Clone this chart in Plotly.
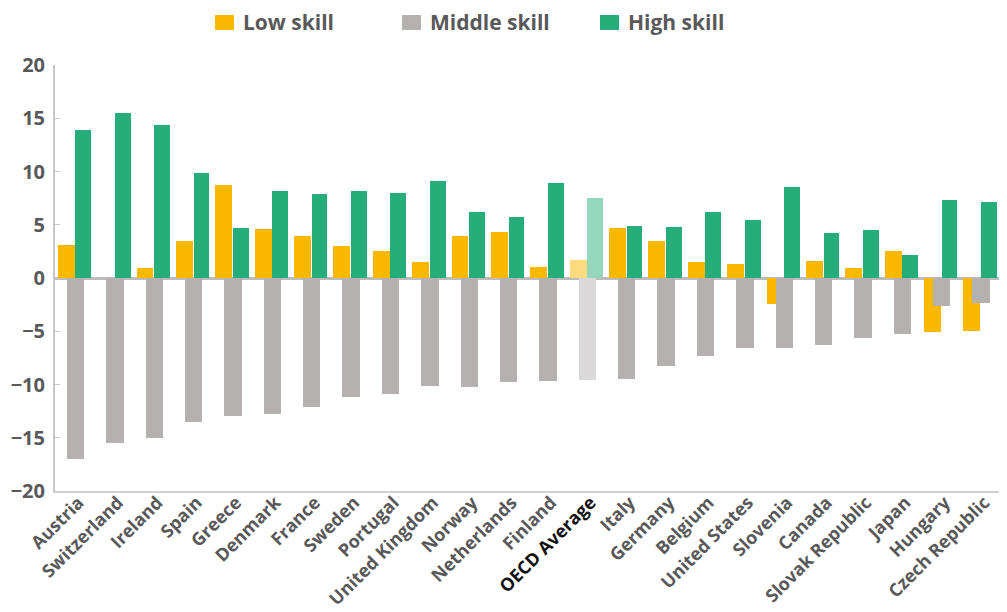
import plotly.graph_objects as go

countries = ["Austria", "Switzerland", "Ireland", "Spain", "Greece", "Denmark", "France",
             "Sweden", "Portugal", "United Kingdom", "Norway", "Netherlands", "Finland",
             "OECD Average", "Italy", "Germany", "Belgium", "United States", "Slovenia",
             "Canada", "Slovak Republic", "Japan", "Hungary", "Czech Republic"]
low_skill = [3.1, 0.0, 0.9, 3.5, 8.7, 4.6, 3.9, 3.0, 2.5, 1.5, 3.9, 4.3, 1.0,
             1.65, 4.7, 3.5, 1.5, 1.3, -2.4, 1.6, 0.9, 2.5, -5.1, -5.0]
middle_skill = [-17.0, -15.5, -15.0, -13.5, -13.0, -12.8, -12.1, -11.2, -10.9, -10.1, -10.2, -9.8, -9.7,
                -9.6, -9.5, -8.3, -7.3, -6.6, -6.6, -6.3, -5.6, -5.3, -2.6, -2.3]
high_skill = [13.9, 15.5, 14.4, 9.9, 4.7, 8.2, 7.9, 8.2, 8.0, 9.1, 6.2, 5.7, 8.9,
              7.5, 4.9, 4.8, 6.2, 5.4, 8.5, 4.2, 4.5, 2.2, 7.3, 7.1]
y_ticks = [-20, -15, -10, -5, 0, 5, 10, 15, 20]
series_names = ["Low skill", "Middle skill", "High skill"]

YELLOW, YELLOW_L = "#FBB800", "#FCDB80"
GRAY, GRAY_L = "#B5B1B0", "#DAD8D8"
GREEN, GREEN_L = "#26AD7A", "#95D7BC"

def colors(base, light):
    return [light if c == "OECD Average" else base for c in countries]

fig = go.Figure()
fig.add_trace(go.Bar(name=series_names[0], x=countries, y=low_skill,
                     marker=dict(color=colors(YELLOW, YELLOW_L), line=dict(width=0)),
                     offset=-0.43, width=0.43, showlegend=False))
fig.add_trace(go.Bar(name=series_names[1], x=countries, y=middle_skill,
                     marker=dict(color=colors(GRAY, GRAY_L), line=dict(width=0)),
                     offset=-0.2, width=0.44, showlegend=False))
fig.add_trace(go.Bar(name=series_names[2], x=countries, y=high_skill,
                     marker=dict(color=colors(GREEN, GREEN_L), line=dict(width=0)),
                     offset=0.02, width=0.40, showlegend=False))

ticktext = ["<span style='color:#111111'>OECD Average</span>" if c == "OECD Average" else c
            for c in countries]

# The page body has an 8px margin; work in screen pixels and subtract it.
OFF = 8
FIG_W, FIG_H = 1007 - OFF, 612 - OFF
L, R, T, B = 55 - OFF, 1000 - OFF, 65 - OFF, 491 - OFF

def px(xp):
    return (xp - OFF - L) / (R - L)
def py(yp):
    return (B - (yp - OFF)) / (B - T)

legend_items = [(215, 243, YELLOW), (402, 430, GRAY), (600, 628, GREEN)]
shapes = []
annotations = []
for (ix, tx, col), name in zip(legend_items, series_names):
    shapes.append(dict(type="rect", xref="paper", yref="paper",
                       x0=px(ix), x1=px(ix + 19), y0=py(30), y1=py(15),
                       fillcolor=col, line=dict(width=0)))
    annotations.append(dict(xref="paper", yref="paper", x=px(tx - 2), y=py(22),
                            xanchor="left", yanchor="middle", showarrow=False,
                            text=name,
                            font=dict(size=21, family="Open Sans", weight=700, color="#595959")))

fig.update_layout(
    width=FIG_W, height=FIG_H,
    margin=dict(l=L, r=FIG_W - R, t=T, b=FIG_H - B),
    barmode="overlay",
    plot_bgcolor="white", paper_bgcolor="white",
    font=dict(family="Open Sans", color="#595959"),
    shapes=shapes, annotations=annotations,
    xaxis=dict(tickmode="array", tickvals=countries, ticktext=ticktext, automargin=False,
               tickangle=-45, ticklabelstandoff=-8, ticklabelshift=4,
               tickfont=dict(size=18, family="Open Sans", weight=700, color="#595959"),
               showline=True, linecolor="#D0D0D0", linewidth=2,
               showgrid=False, ticks="", range=[-0.5, 23.5]),
    yaxis=dict(range=[-20, 20], tickvals=y_ticks, ticks="inside", ticklen=5, tickcolor="#C8C8C8",
               automargin=False, ticklabelstandoff=4,
               tickfont=dict(size=20, family="Open Sans", weight=700, color="#595959"),
               showline=True, linecolor="#C8C8C8", linewidth=2,
               showgrid=False, zeroline=True, zerolinecolor="#BDBABA", zerolinewidth=3),
    bargap=0,
)

fig.write_html("out.html")
